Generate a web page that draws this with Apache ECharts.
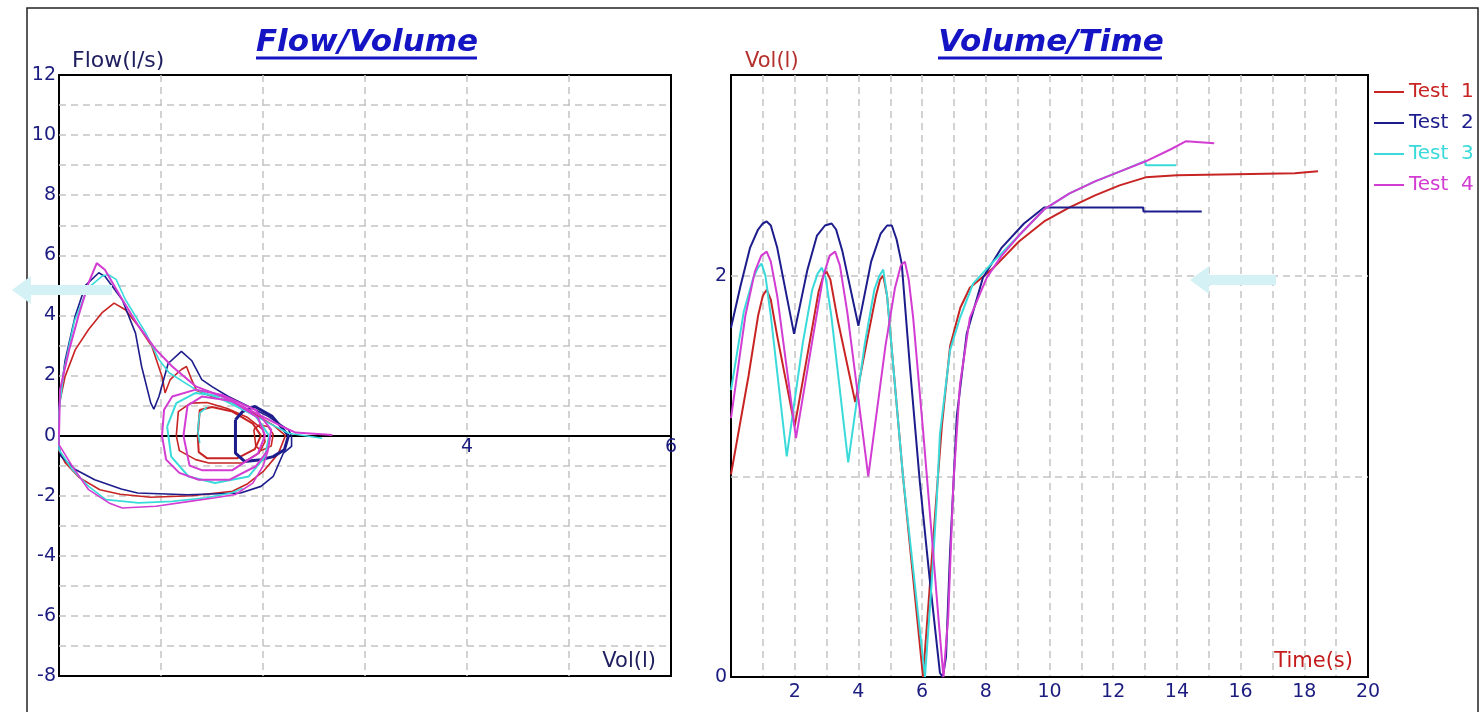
<!DOCTYPE html>
<html>
<head>
<meta charset="utf-8">
<title>Flow/Volume - Volume/Time</title>
<script src="https://cdn.jsdelivr.net/npm/echarts/dist/echarts.min.js"></script>
<style>
  html, body { margin: 0; padding: 0; background: #fff; }
  #myChart { width: 1484px; height: 712px; }
</style>
</head>
<body>
<div id="myChart"></div>
<script>
// ---- data: volume/time curves, [time s, volume l] ----
var testNames = ['Test 1', 'Test 2', 'Test 3', 'Test 4'];
var testColors = ['#c82424', '#1c1c8c', '#3adada', '#d23cd2'];

var vtTest1 = [[0, 1.01], [0.55, 1.5], [0.85, 1.8], [1.0, 1.9], [1.12, 1.93], [1.25, 1.88], [1.45, 1.7], [2.0, 1.25], [2.45, 1.65], [2.75, 1.92], [2.9, 2.0], [3.0, 2.02], [3.12, 1.98], [3.35, 1.78], [3.9, 1.37], [4.3, 1.7], [4.55, 1.9], [4.68, 1.98], [4.78, 2.0], [4.9, 1.9], [5.4, 1.0], [6.03, 0], [6.25, 0.47], [6.46, 0.92], [6.62, 1.25], [6.88, 1.65], [7.2, 1.84], [7.5, 1.94], [8.25, 2.04], [9.04, 2.17], [9.83, 2.27], [10.63, 2.34], [11.43, 2.4], [12.2, 2.45], [13.02, 2.49], [14.0, 2.5], [17.7, 2.51], [18.43, 2.52]];
var vtTest2 = [[0, 1.74], [0.3, 1.95], [0.6, 2.14], [0.85, 2.23], [1.0, 2.26], [1.12, 2.27], [1.25, 2.25], [1.45, 2.14], [1.98, 1.71], [2.4, 2.03], [2.7, 2.2], [2.95, 2.25], [3.16, 2.26], [3.3, 2.23], [3.5, 2.12], [4.0, 1.75], [4.4, 2.07], [4.7, 2.21], [4.9, 2.25], [5.05, 2.25], [5.2, 2.18], [5.36, 2.06], [5.62, 1.54], [5.93, 0.97], [6.25, 0.47], [6.56, 0.02], [6.65, 0], [6.75, 0.1], [6.88, 0.63], [7.09, 1.3], [7.4, 1.71], [7.91, 1.99], [8.5, 2.14], [9.2, 2.26], [9.83, 2.34], [12.94, 2.34], [12.95, 2.32], [14.78, 2.32]];
var vtTest3 = [[0, 1.43], [0.4, 1.82], [0.7, 1.99], [0.85, 2.04], [0.96, 2.06], [1.08, 2.0], [1.25, 1.8], [1.75, 1.1], [2.25, 1.66], [2.55, 1.93], [2.72, 2.01], [2.85, 2.04], [2.97, 1.99], [3.15, 1.8], [3.68, 1.07], [4.2, 1.66], [4.5, 1.93], [4.66, 2.0], [4.78, 2.03], [4.9, 1.9], [5.4, 1.0], [6.09, 0], [6.3, 0.47], [6.46, 0.88], [6.56, 1.21], [6.88, 1.63], [7.19, 1.79], [7.6, 1.96], [8.24, 2.07], [9.04, 2.2], [9.83, 2.33], [10.63, 2.41], [11.43, 2.47], [12.22, 2.52], [13.0, 2.57], [13.03, 2.55], [13.97, 2.55]];
var vtTest4 = [[0, 1.29], [0.45, 1.8], [0.75, 2.02], [0.95, 2.1], [1.12, 2.12], [1.25, 2.07], [1.45, 1.9], [2.04, 1.19], [2.6, 1.72], [2.9, 2.0], [3.1, 2.1], [3.27, 2.12], [3.42, 2.05], [3.65, 1.82], [4.31, 1.0], [4.85, 1.65], [5.15, 1.94], [5.33, 2.05], [5.46, 2.07], [5.58, 1.98], [5.72, 1.79], [6.04, 1.21], [6.3, 0.71], [6.51, 0.3], [6.67, 0], [6.82, 0.3], [6.98, 0.96], [7.19, 1.46], [7.5, 1.79], [8.03, 1.99], [8.5, 2.1], [9.04, 2.2], [9.83, 2.33], [10.63, 2.41], [11.43, 2.47], [12.22, 2.52], [13.02, 2.57], [13.81, 2.63], [14.29, 2.67], [15.17, 2.66]];

// ---- data: flow/volume loops, [volume l, flow l/s] ----
var fvTest1 = [[0, 0], [0, 1.0], [0.06, 1.97], [0.16, 2.86], [0.29, 3.53], [0.42, 4.08], [0.54, 4.41], [0.65, 4.19], [0.78, 3.64], [0.91, 2.97], [1.01, 1.97], [1.04, 1.42], [1.09, 1.86], [1.2, 2.2], [1.25, 2.3], [1.3, 1.86], [1.35, 1.5], [1.5, 1.3], [1.7, 1.1], [1.9, 0.75], [2.1, 0.35], [2.22, 0], [2.15, -0.6], [2.0, -1.2], [1.85, -1.6], [1.7, -1.85], [1.3, -2.0], [0.9, -2.05], [0.6, -1.95], [0.4, -1.8], [0.2, -1.4], [0.06, -0.9], [0, -0.5], [0, 0]];
var fvTest1Tidal = [[1.15, 0], [1.17, 0.8], [1.29, 1.08], [1.45, 1.1], [1.65, 0.9], [1.85, 0.6], [2.0, 0.2], [2.02, -0.2], [1.96, -0.58], [1.8, -0.91], [1.47, -0.91], [1.34, -0.8], [1.18, -0.5], [1.15, 0]];
var fvTest1Inner = [[1.36, 0], [1.38, 0.85], [1.5, 0.95], [1.7, 0.8], [1.9, 0.4], [1.98, 0], [1.92, -0.45], [1.75, -0.75], [1.45, -0.75], [1.37, -0.55], [1.36, 0]];
var fvTest1Small = [[1.91, 0.2], [1.93, -0.35], [1.98, -0.5], [2.08, -0.35], [2.1, 0.05], [2.05, 0.3], [1.96, 0.35], [1.91, 0.2]];

var fvTest2 = [[0, 0], [0, 1.0], [0.06, 2.5], [0.16, 4.0], [0.26, 5.0], [0.39, 5.42], [0.45, 5.3], [0.62, 4.52], [0.75, 3.41], [0.81, 2.3], [0.9, 1.08], [0.93, 0.88], [0.98, 1.3], [1.07, 2.4], [1.2, 2.8], [1.3, 2.5], [1.4, 1.86], [1.5, 1.63], [1.66, 1.3], [1.86, 0.97], [2.05, 0.64], [2.25, 0.19], [2.28, 0], [2.28, -0.36], [2.2, -0.58], [2.1, -1.36], [1.98, -1.69], [1.78, -1.91], [1.26, -1.97], [0.77, -1.91], [0.61, -1.78], [0.35, -1.47], [0.16, -1.13], [0.02, -0.69], [0, -0.36], [0, 0]];
var fvTest2Tidal = [[1.73, 0.53], [1.73, -0.58], [1.82, -0.86], [1.98, -0.8], [2.1, -0.7], [2.21, -0.47], [2.25, 0], [2.09, 0.64], [1.92, 0.97], [1.8, 0.8], [1.73, 0.53]];

var fvTest3 = [[0, 0], [0, 0.8], [0.05, 2.2], [0.15, 3.8], [0.28, 4.9], [0.42, 5.3], [0.48, 5.36], [0.56, 5.2], [0.65, 4.53], [0.85, 3.42], [0.98, 2.53], [1.08, 2.09], [1.34, 1.53], [1.6, 1.2], [1.93, 0.64], [2.25, 0.08], [2.58, -0.09]];
var fvTest3Insp = [[0, 0], [0, -0.47], [0.13, -1.13], [0.29, -1.69], [0.46, -2.13], [0.78, -2.24], [1.11, -2.19], [1.44, -2.07], [1.69, -1.91], [1.8, -1.75]];
var fvTest3Tidal = [[1.06, 0.3], [1.1, -0.7], [1.27, -1.36], [1.53, -1.58], [1.86, -1.36], [2.02, -0.7], [2.06, 0], [1.93, 0.64], [1.6, 1.3], [1.34, 1.42], [1.15, 1.08], [1.06, 0.3]];
var fvTest3Inner = [[1.38, -0.25], [1.36, 0.2], [1.38, 0.75], [1.45, 0.95]];

var fvTest4 = [[0, 0], [0.01, 1.53], [0.1, 2.86], [0.19, 3.97], [0.29, 5.08], [0.37, 5.74], [0.45, 5.52], [0.62, 4.53], [0.78, 3.64], [0.95, 2.86], [1.11, 2.3], [1.34, 1.64], [1.6, 1.3], [1.93, 0.75], [2.19, 0.3], [2.32, 0.1], [2.68, 0.02]];
var fvTest4Insp = [[0, 0], [0, -0.3], [0.13, -1.02], [0.29, -1.8], [0.49, -2.24], [0.62, -2.41], [0.95, -2.35], [1.28, -2.19], [1.53, -2.07], [1.73, -1.96], [1.9, -1.58], [2.0, -1.02], [2.05, -0.5]];
var fvTest4Tidal = [[1.01, 0], [1.03, 0.86], [1.11, 1.3], [1.34, 1.53], [1.6, 1.35], [1.93, 0.85], [2.08, 0.2], [2.05, -0.47], [1.93, -1.02], [1.67, -1.47], [1.37, -1.47], [1.18, -1.24], [1.05, -0.8], [1.01, 0]];
var fvTest4Inner = [[1.22, 0], [1.26, 1.0], [1.4, 1.3], [1.7, 1.15], [1.95, 0.6], [2.02, 0], [1.95, -0.6], [1.7, -1.15], [1.4, -1.15], [1.28, -1.0], [1.22, 0]];

// ---- chart ----
var FONT = 'DejaVu Sans';
var NAVY = '#1c1c80';
var gridLine = { show: true, showMinLine: false, showMaxLine: false, lineStyle: { color: '#c4c4c4', width: 1.5, type: [7, 5] } };

function line (i, data, grid, width) {
  return {
    name: testNames[i],
    type: 'line',
    xAxisIndex: grid,
    yAxisIndex: grid,
    data: data,
    symbol: 'none',
    silent: true,
    lineStyle: { color: testColors[i], width: width || 1.6 },
    itemStyle: { color: testColors[i] }
  }
}

var myChart = echarts.init(document.getElementById('myChart'))
var option = {
  animation: false,
  backgroundColor: '#fff',
  title: [
    { text: 'Flow/Volume', left: 362, top: 22, textAlign: 'center',
      textStyle: { fontFamily: FONT, fontStyle: 'italic', fontWeight: 'bold', fontSize: 31, color: '#1414c4' } },
    { text: 'Volume/Time', left: 1046, top: 22, textAlign: 'center',
      textStyle: { fontFamily: FONT, fontStyle: 'italic', fontWeight: 'bold', fontSize: 31, color: '#1414c4' } }
  ],
  legend: {
    orient: 'vertical',
    left: 1369,
    top: 77,
    itemGap: 11,
    itemWidth: 30,
    itemHeight: 2,
    icon: 'rect',
    formatter: function (name) { return name.replace(' ', '  ') },
    textStyle: { fontFamily: FONT, fontSize: 20 },
    data: testNames.map(function (n, i) {
      return { name: n, textStyle: { color: testColors[i] } }
    })
  },
  grid: [
    { left: 59, top: 75, width: 612, height: 601, show: true, borderColor: '#000', borderWidth: 2 },
    { left: 731, top: 75, width: 637, height: 602, show: true, borderColor: '#000', borderWidth: 2 }
  ],
  xAxis: [
    {
      gridIndex: 0, type: 'value', min: 0, max: 6, interval: 1,
      axisLine: { onZero: true, lineStyle: { color: '#000', width: 2 } },
      axisTick: { show: false },
      axisLabel: {
        // labels sit just under the zero line
        margin: -238, color: NAVY, fontFamily: FONT, fontSize: 19,
        formatter: function (v) { return (v === 4 || v === 6) ? v : '' }
      },
      splitLine: gridLine
    },
    {
      gridIndex: 1, type: 'value', min: 0, max: 20, interval: 1,
      axisLine: { lineStyle: { color: '#000', width: 2 } },
      axisTick: { show: false },
      axisLabel: {
        margin: 6, color: NAVY, fontFamily: FONT, fontSize: 19, showMaxLabel: true,
        formatter: function (v) { return (v > 0 && v % 2 === 0) ? v : '' }
      },
      splitLine: gridLine
    }
  ],
  yAxis: [
    {
      gridIndex: 0, type: 'value', min: -8, max: 12, interval: 1,
      name: 'Flow(l/s)', nameLocation: 'end', nameGap: 3,
      nameTextStyle: { align: 'left', verticalAlign: 'bottom', padding: [0, 0, 0, 13], color: '#202060', fontFamily: FONT, fontSize: 22 },
      axisLine: { show: false },
      axisTick: { show: false },
      axisLabel: {
        margin: 3, color: NAVY, fontFamily: FONT, fontSize: 19,
        formatter: function (v) { return v % 2 === 0 ? v : '' }
      },
      splitLine: gridLine
    },
    {
      gridIndex: 1, type: 'value', min: 0, max: 3, interval: 1,
      name: 'Vol(l)', nameLocation: 'end', nameGap: 3,
      nameTextStyle: { align: 'left', verticalAlign: 'bottom', padding: [0, 0, 0, 14], color: '#b4302c', fontFamily: FONT, fontSize: 21 },
      axisLine: { show: false },
      axisTick: { show: false },
      axisLabel: {
        margin: 4, color: NAVY, fontFamily: FONT, fontSize: 19,
        formatter: function (v) { return (v === 0 || v === 2) ? v : '' }
      },
      splitLine: gridLine
    }
  ],
  graphic: [
    // outer frame
    { type: 'rect', shape: { x: 27, y: 8, width: 1451, height: 720 }, style: { fill: 'none', stroke: '#222', lineWidth: 1.5 }, silent: true },
    // title underlines
    { type: 'line', shape: { x1: 256, y1: 58, x2: 477, y2: 58 }, style: { stroke: '#1414c4', lineWidth: 3 } },
    { type: 'line', shape: { x1: 938, y1: 58, x2: 1162, y2: 58 }, style: { stroke: '#1414c4', lineWidth: 3 } },
    // axis captions inside the plots
    { type: 'text', x: 656, y: 662, style: { text: 'Vol(l)', fill: '#202060', font: '21px "DejaVu Sans"', align: 'right', verticalAlign: 'middle' }, z: 10 },
    { type: 'text', x: 1353, y: 662, style: { text: 'Time(s)', fill: '#c41c1c', font: '21px "DejaVu Sans"', align: 'right', verticalAlign: 'middle' }, z: 10 },
    // pale pointer arrows
    { type: 'polygon', shape: { points: [[12, 290], [31, 276], [31, 285], [112, 285], [112, 295], [31, 295], [31, 304]] }, style: { fill: '#d4f2f5' }, z: 20 },
    { type: 'polygon', shape: { points: [[1190, 280], [1209, 266], [1209, 275], [1276, 275], [1276, 285], [1209, 285], [1209, 294]] }, style: { fill: '#d4f2f5' }, z: 20 }
  ],
  series: [
    line(0, fvTest1, 0), line(0, fvTest1Tidal, 0), line(0, fvTest1Inner, 0, 2), line(0, fvTest1Small, 0),
    line(1, fvTest2, 0), line(1, fvTest2Tidal, 0, 3),
    line(2, fvTest3, 0), line(2, fvTest3Insp, 0), line(2, fvTest3Tidal, 0, 2), line(2, fvTest3Inner, 0),
    line(3, fvTest4, 0, 2), line(3, fvTest4Insp, 0), line(3, fvTest4Tidal, 0, 2), line(3, fvTest4Inner, 0, 2),
    line(0, vtTest1, 1, 2), line(1, vtTest2, 1, 2), line(2, vtTest3, 1, 2), line(3, vtTest4, 1, 2)
  ]
}
myChart.setOption(option);
</script>
</body>
</html>
